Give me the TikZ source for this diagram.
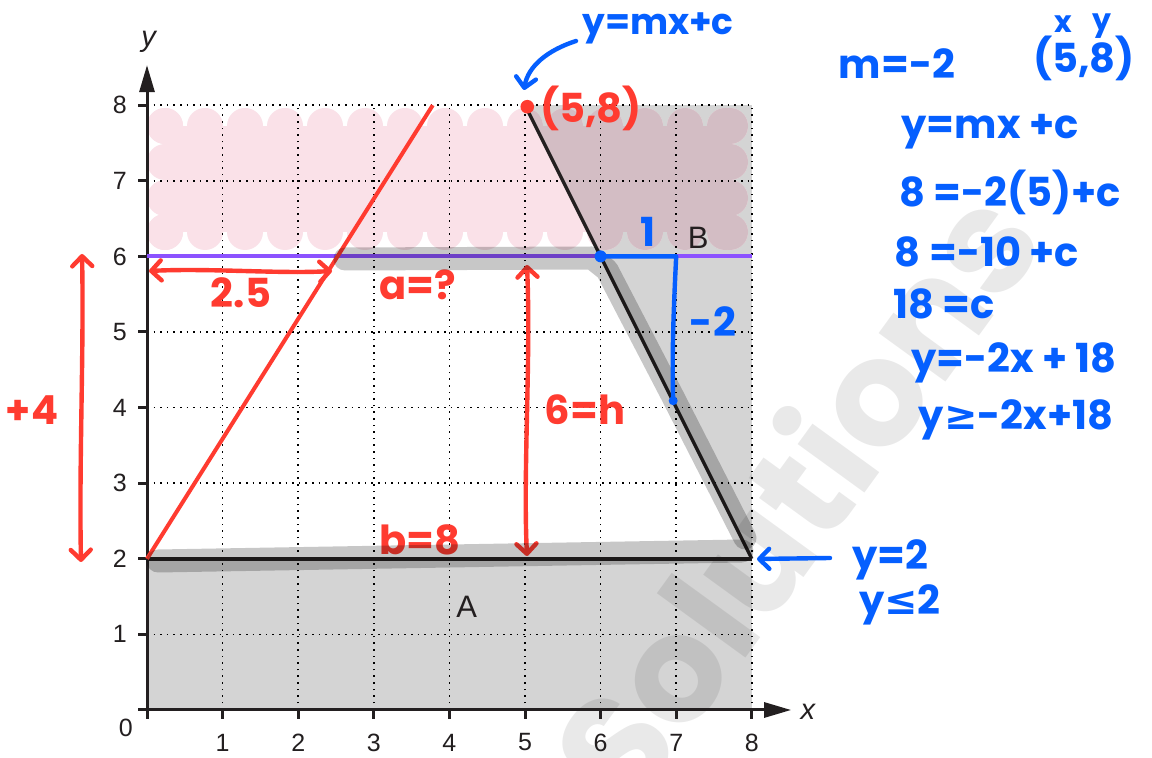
\documentclass[tikz,border=0pt]{standalone}
\usepackage{fontspec}
\setmainfont{Liberation Sans}
\newfontfamily\hand{Poppins}
\newfontfamily\symf{DejaVu Sans}
\usetikzlibrary{arrows.meta}
\definecolor{shadegray}{RGB}{212,212,212}
\definecolor{pinkc}{RGB}{250,225,232}
\definecolor{mauvec}{RGB}{211,189,196}
\definecolor{ink}{RGB}{35,31,32}
\definecolor{redpen}{RGB}{255,59,48}
\definecolor{bluepen}{RGB}{5,95,255}
\definecolor{violetc}{RGB}{140,82,255}
\newcommand\mycloud[1]{%
  \fill[#1] (165,126) rectangle (730,232);
  \foreach \cx in {165,205,...,725} {\fill[#1] (\cx,126) circle[radius=18]; \fill[#1] (\cx,232) circle[radius=18];}
  \foreach \cy in {126,162,198,232} {\fill[#1] (165,\cy) circle[radius=18]; \fill[#1] (730,\cy) circle[radius=18];}
}
\begin{document}
\begin{tikzpicture}[x=0.5pt,y=-0.5pt,
  graph/.style={shift={(73.5pt,-355pt)}, x=37.8pt, y=37.8pt},
  hand/.style={inner sep=0pt, font=\hand\bfseries\fontsize{20}{24}\selectfont},
  bluetxt/.style={hand, text=bluepen},
  redtxt/.style={hand, text=redpen},
  numlab/.style={inner sep=0pt, text=ink, font=\fontsize{12.5}{14}\selectfont},
  axislab/.style={inner sep=0pt, text=ink, font=\itshape\fontsize{14.5}{16}\selectfont},
  regionlab/.style={inner sep=0pt, text=ink, font=\fontsize{15.5}{18}\selectfont},
  axisline/.style={ink, line width=1.5pt},
  gridline/.style={black, line width=0.8pt, dash pattern=on 0.8pt off 2.5pt},
  thickblack/.style={ink, line width=2.2pt},
  slantblack/.style={ink, line width=1.7pt},
  violetline/.style={violetc, line width=2.1pt},
  redline/.style={redpen, line width=2pt},
  redpenline/.style={redpen, line width=2.2pt, line cap=round, line join=round},
  bluepenline/.style={bluepen, line width=2.2pt, line cap=round, line join=round},
  barb/.style={-{Straight Barb[length=5pt,width=10pt,round]}},
  dblbarb/.style={{Straight Barb[length=5pt,width=10pt,round]}-{Straight Barb[length=5pt,width=10pt,round]}},
  highlighter/.style={draw=black, draw opacity=0.22, line width=11.5pt, line cap=round, line join=round},
  wm/.style={inner sep=0pt, rotate=54, text=black, text opacity=0.085, font=\hand\bfseries\fontsize{74}{84}\selectfont},
]
\useasboundingbox (0,0) rectangle (1152,758);
\fill[white] (0,0) rectangle (1152,758);
% shaded region
\begin{scope}[graph]
  \fill[shadegray] (0,0) -- (8,0) -- (8,8) -- (5,8) -- (8,2) -- (0,2) -- cycle;
\end{scope}
% pink highlight cloud
\mycloud{pinkc}
\begin{scope}
  \clip (525,105.2) -- (751.8,105.2) -- (751.8,558.8) -- cycle;
  \mycloud{mauvec}
\end{scope}
% grid
\begin{scope}[graph]
  \foreach \i in {1,...,8} {
    \draw[gridline] (\i,0) -- (\i,8);
    \draw[gridline] (0,\i) -- (8,\i);
  }
\end{scope}
% watermark
\node[wm] (wm) at (792,494) {Solutions};
% axes and lines
\begin{scope}[graph]
  \coordinate (O) at (0,0);
  \coordinate (xend) at (8.52,0);
  \coordinate (yend) at (0,8.53);
  \draw[axisline, -{Triangle[length=13.5pt,width=7.5pt]}] (O) -- (xend);
  \draw[axisline, -{Triangle[length=13.5pt,width=7.5pt]}] (O) -- (yend);
  \foreach \i in {0,...,8} {
    \draw[axisline] (\i,0) -- (\i,-0.12);
    \draw[axisline] (0,\i) -- (-0.12,\i);
  }
  \foreach \i in {1,...,8} {
    \node[numlab] (xl\i) at (\i,-0.43) {\i};
    \node[numlab] (yl\i) at (-0.36,\i) {\i};
  }
  \node[numlab] (zero) at (-0.28,-0.24) {0};
  \node[axislab] (xlab) at (8.74,-0.03) {x};
  \node[axislab] (ylab) at (0.02,8.84) {y};
  \node[regionlab] (A) at (4.23,1.37) {A};
  \node[regionlab] (B) at (7.29,6.25) {B};
  \coordinate (P02) at (0,2);
  \coordinate (P82) at (8,2);
  \coordinate (P58) at (5,8);
  \coordinate (P06) at (0,6);
  \coordinate (P86) at (8,6);
  \coordinate (R8) at (3.78,8);
  \coordinate (P66) at (6,6);
  \coordinate (P76) at (7,6);
  \coordinate (P74) at (6.96,4.09);
  \draw[thickblack] (P02) -- (P82);
  \draw[slantblack] (P58) -- (P82);
  \draw[violetline] (P06) -- (P86);
  \draw[redline] (P02) -- (R8);
  \fill[redpen] (5.03,7.98) circle[radius=0.09];
\end{scope}
% red annotations
\coordinate (h1) at (149,271);
\coordinate (h2) at (332,271);
\draw[redpenline, dblbarb] (h1) .. controls (210,268) and (280,274) .. (h2);
\coordinate (v1) at (527,265);
\coordinate (v2) at (527,556);
\draw[redpenline, dblbarb] (v1) .. controls (531,360) and (523,470) .. (v2);
\coordinate (f1) at (82,254);
\coordinate (f2) at (81,562);
\draw[redpenline, dblbarb] (f1) .. controls (84,350) and (79,460) .. (f2);
\node[redtxt] (t25) at (241,293) {2.5};
\node[redtxt] (ta) at (418,285) {a=?};
\node[redtxt] (th) at (585,410) {6=h};
\node[redtxt] (tb) at (420,540) {b=8};
\node[redtxt] (t4) at (32,410) {+4};
\node[redtxt] (p58r) at (591,108) {(5,8)};
% grey highlighter strokes
\coordinate (g1) at (158,561);
\coordinate (g2) at (450,556);
\coordinate (g3) at (742,551);
\draw[highlighter] (g1) -- (g2) -- (g3);
\coordinate (k1) at (345,259);
\coordinate (k2) at (592,258);
\coordinate (k3) at (607,270);
\coordinate (k4) at (672,395);
\coordinate (k5) at (745,538);
\draw[highlighter] (k1) -- (k2) -- (k3) -- (k4) -- (k5);
% blue annotations
\coordinate (ba1) at (576,41);
\coordinate (ba2) at (524,90);
\draw[bluepenline, barb] (ba1) .. controls (548,50) and (528,66) .. (ba2);
\coordinate (bb1) at (830,558);
\coordinate (bb2) at (757,559);
\draw[bluepenline, barb] (bb1) -- (bb2);
\draw[bluepenline] (P66) -- (P76) .. controls (673,320) and (672,360) .. (P74);
\fill[bluepen] (P66) circle[radius=6];
\fill[bluepen] (P74) circle[radius=4.5];
\node[bluetxt, font=\hand\bfseries\fontsize{18}{22}\selectfont] (tmx) at (658,28) {y=mx+c};
\node[bluetxt] (one) at (648,232) {1};
\node[bluetxt] (mtwo) at (713,322) {-2};
\node[bluetxt] (m) at (897,64) {m=-2};
\node[bluetxt, font=\hand\bfseries\fontsize{15}{18}\selectfont] (sx) at (1063,24) {x};
\node[bluetxt, font=\hand\bfseries\fontsize{15}{18}\selectfont] (sy) at (1102,26) {y};
\node[bluetxt] (p58b) at (1084,58) {(5,8)};
\node[bluetxt] (e1) at (990,132) {y=mx +c};
\node[bluetxt] (e2) at (1010,192) {8 =-2(5)+c};
\node[bluetxt] (e3) at (987,252) {8 =-10 +c};
\node[bluetxt] (e4) at (944,304) {18 =c};
\node[bluetxt] (e5) at (1014,363) {y=-2x + 18};
\node[bluetxt] (e6) at (1016,420) {y{\symf ≥}-2x+18};
\node[bluetxt] (y2) at (890,560) {y=2};
\node[bluetxt] (yle) at (900,605) {y{\symf ≤}2};
\end{tikzpicture}
\end{document}
